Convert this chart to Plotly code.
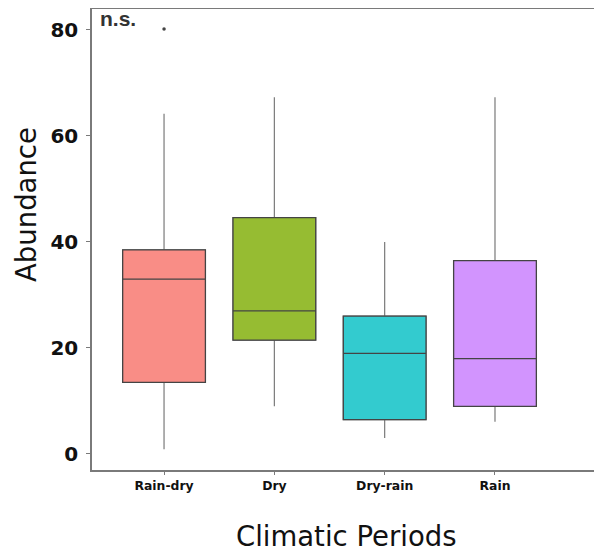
import plotly.graph_objects as go

categories = ["Rain-dry", "Dry", "Dry-rain", "Rain"]
q1 = [13.5, 21.5, 6.5, 9.0]
median = [33.0, 27.0, 19.0, 18.0]
q3 = [38.5, 44.6, 26.0, 36.5]
lower = [0.9, 9.0, 3.0, 6.1]
upper = [64.2, 67.3, 40.0, 67.3]
outlier_cat = ["Rain-dry"]
outlier_val = [80.2]
colors = ["#F98D86", "#96BC32", "#33CBCF", "#D294FE"]
y_ticks = [0, 20, 40, 60, 80]

# page body has an 8px margin; figure sized so it fits the 602x556 window
W, H = 594, 548
L, R, T, B = 84, 0, 1, 86
PW, PH = W - L - R, H - T - B

fig = go.Figure()
for i, c in enumerate(categories):
    # whiskers (lighter grey)
    fig.add_trace(go.Box(
        x=[i], q1=[q1[i]], median=[median[i]], q3=[q3[i]],
        lowerfence=[lower[i]], upperfence=[upper[i]],
        width=0.75, whiskerwidth=0,
        fillcolor=colors[i],
        line=dict(color="#7a7a7a", width=1.2),
        boxpoints=False, showlegend=False, hoverinfo="skip",
    ))
    # box outline and median (darker)
    fig.add_trace(go.Box(
        x=[i], q1=[q1[i]], median=[median[i]], q3=[q3[i]],
        lowerfence=[q1[i]], upperfence=[q3[i]],
        width=0.75, whiskerwidth=0,
        fillcolor=colors[i],
        line=dict(color="#444444", width=1.3),
        boxpoints=False, showlegend=False, hoverinfo="skip",
    ))

fig.add_trace(go.Scatter(
    x=[categories.index(c) for c in outlier_cat], y=outlier_val,
    mode="markers", marker=dict(color="#444444", size=3.5),
    showlegend=False, hoverinfo="skip",
))

def px_x(fx):
    return (fx - L) / PW

def px_y(fy):
    return 1 - (fy - T) / PH

fig.update_layout(
    width=W, height=H, boxmode="overlay",
    margin=dict(l=L, r=R, t=T, b=B, autoexpand=False),
    plot_bgcolor="white", paper_bgcolor="white",
    xaxis=dict(
        range=[-0.653, 3.97], automargin=False,
        tickvals=list(range(len(categories))), ticktext=categories,
        showline=True, linecolor="#7a7a7a", linewidth=1.5, mirror=True,
        ticks="outside", ticklen=3, tickcolor="#7a7a7a", tickwidth=1,
        showgrid=False, zeroline=False,
        tickfont=dict(family="DejaVu Sans", size=12.4, color="#111111", weight="bold"),
    ),
    yaxis=dict(
        range=[-3.02, 83.96], automargin=False,
        tickvals=y_ticks,
        showline=True, linecolor="#7a7a7a", linewidth=1.5,
        ticks="outside", ticklen=4, tickcolor="#7a7a7a", tickwidth=1,
        ticklabelstandoff=4,
        showgrid=False, zeroline=False,
        tickfont=dict(family="DejaVu Sans", size=20, color="#111111", weight="bold"),
    ),
    annotations=[
        dict(text="<b>n.s.</b>", xref="paper", yref="paper",
             x=px_x(90), y=px_y(11), xanchor="left", yanchor="middle",
             showarrow=False,
             font=dict(family="Liberation Sans", size=21, color="#333333")),
        dict(text="Climatic Periods", xref="paper", yref="paper",
             x=px_x(338), y=px_y(528), xanchor="center", yanchor="middle",
             showarrow=False,
             font=dict(family="DejaVu Sans", size=27.5, color="#111111")),
        dict(text="Abundance", xref="paper", yref="paper", textangle=-90,
             x=px_x(18), y=px_y(197), xanchor="center", yanchor="middle",
             showarrow=False,
             font=dict(family="DejaVu Sans", size=27.5, color="#111111")),
    ],
)

fig.write_html("out.html")
